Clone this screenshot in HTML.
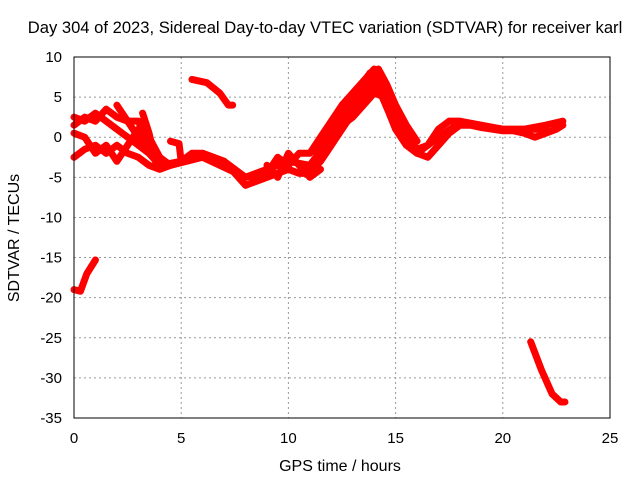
<!DOCTYPE html>
<html><head><meta charset="utf-8"><style>
body{margin:0;background:#fff}
svg text{font-family:"Liberation Sans",sans-serif;font-size:15px;fill:#000}
</style></head><body>
<svg id="c" width="640" height="480">
<rect width="640" height="480" fill="#fff"/>
<text x="325" y="33" text-anchor="middle" style="font-size:16.6px">Day 304 of 2023, Sidereal Day-to-day VTEC variation (SDTVAR) for receiver karl</text>
<text x="340" y="471" text-anchor="middle" style="font-size:16px">GPS time / hours</text>
<text transform="translate(19,238) rotate(-90)" text-anchor="middle" style="font-size:16px">SDTVAR / TECUs</text>
<g id="grid"></g><g id="marks"></g>
<rect x="74" y="57" width="536" height="361" fill="none" stroke="#000"/>
</svg>
<script>
const xTicks=[0,5,10,15,20,25];
const yTicks=[10,5,0,-5,-10,-15,-20,-25,-30,-35];
const trackLower=[[0,-2.5],[0.5,-1.5],[1,-1],[1.5,-2],[2,-1],[2.5,-2],[3,-2.5],[3.5,-3.5],[4,-4],[4.5,-3.5],[5,-3],[5.5,-2],[6,-2],[6.5,-2.5],[7,-3],[7.5,-4.5],[8,-6],[8.5,-5.5],[9,-5],[9.5,-4.5],[10,-4],[10.5,-4.5],[11,-4.5],[11.5,-3],[12,-1],[12.5,1],[13,3],[13.5,5],[14,6.5],[14.3,5.5],[14.7,3],[15,1],[15.5,-1],[16,-2],[16.5,-2.5],[17,-1],[17.5,0.5],[18,1.5],[18.5,1.5],[19,1.2],[19.5,1],[20,0.8],[20.5,0.8],[21,0.5],[21.5,0],[22,0.5],[22.5,1],[22.8,1.5]];
const trackUpper=[[0,2.5],[0.5,2],[1,3],[1.5,2],[2,1],[2.5,0],[3,-1],[3.5,-2],[4,-3.5],[5,-3],[6,-2],[7,-3],[7.5,-4],[8,-5],[9,-4.5],[9.5,-2.5],[10,-3.5],[10.5,-2],[11,-2],[11.5,0],[12,2],[12.5,4],[13,5.5],[13.5,7],[14,8.5],[14.3,7],[14.7,5],[15,3],[15.5,0],[16,-1.5],[16.5,-1],[17,1],[17.5,2],[18,2],[19,1.5],[20,1],[21,1],[22,1.5],[22.8,2]];
const trackMid=[[0,0.5],[0.5,0],[1,-2],[1.5,-1],[2,-3],[2.5,-1],[3,1],[3.5,0],[4,-2.5],[4.5,-3.5],[6,-2.5],[8,-5],[10,-3],[11,-3.5],[12,0],[13,4],[14,7.5],[15,2],[16,-2],[17,0],[18,1.8],[20,1],[22,1]];
const trackPeakA=[[11,-4],[12,0],[12.5,1.5],[13,2.5],[13.5,4],[14,5.5],[14.5,5],[15,2.5],[15.5,0],[16,-1.5]];
const trackPeakB=[[11.3,-2],[11.8,0],[12.3,2],[12.8,4],[13.3,6],[13.8,8],[14.2,8.5],[14.6,6.5],[15,4],[15.5,1.5],[16,-0.5]];
const trackWiggle=[[9,-3.5],[9.5,-5],[10,-2],[10.5,-3.5],[11,-5],[11.5,-4]];
const trackLeft=[[0,1.5],[0.5,2.5],[1,2],[1.5,3.5],[2,2.5],[2.5,2],[3,2],[3.5,-1],[4,-3]];
const hook1=[[2,4],[2.5,2],[3,0],[3.5,-2]];
const hook2=[[3.2,3],[3.5,0.5],[3.8,-3]];
const hook3=[[4.5,-0.5],[4.9,-0.8],[5,-3]];
const trackHigh=[[5.5,7.2],[6.2,6.8],[6.8,5.5],[7.2,4],[7.4,4]];
const trackNeg19=[[0,-19],[0.3,-19.2],[0.6,-17],[1,-15.3]];
const trackNeg30=[[21.3,-25.5],[21.8,-29],[22.3,-32],[22.7,-33],[22.9,-33]];
const tracks=[trackLower,trackUpper,trackMid,trackPeakA,trackPeakB,trackWiggle,trackLeft,hook1,hook2,hook3,trackHigh,trackNeg19,trackNeg30];
const X=v=>74+v*536/25, Y=v=>418-(v+35)*361/45;
const ns="http://www.w3.org/2000/svg";
const g=document.getElementById('grid'), m=document.getElementById('marks');
function el(t,a,p){const e=document.createElementNS(ns,t);for(const k in a)e.setAttribute(k,a[k]);p.appendChild(e);return e;}
xTicks.forEach(t=>{
 const l=el('line',{x1:X(t),x2:X(t),y1:57,y2:418,stroke:'#999','stroke-dasharray':'2,3'},g);
 
 
 const tx=el('text',{x:X(t),y:443,'text-anchor':'middle'},g);tx.textContent=t;
 
 
});
yTicks.forEach(t=>{
 const l=el('line',{x1:74,x2:610,y1:Y(t),y2:Y(t),stroke:'#999','stroke-dasharray':'2,3'},g);
 
 
 const tx=el('text',{x:62,y:Y(t)+5,'text-anchor':'end'},g);tx.textContent=t;
 
 
});
tracks.forEach(tr=>{
 const p=el('polyline',{points:tr.map(d=>X(d[0])+','+Y(d[1])).join(' '),fill:'none',stroke:'#f00','stroke-width':7,'stroke-linejoin':'round','stroke-linecap':'round'},m);
 
 
});
</script>
</body></html>
